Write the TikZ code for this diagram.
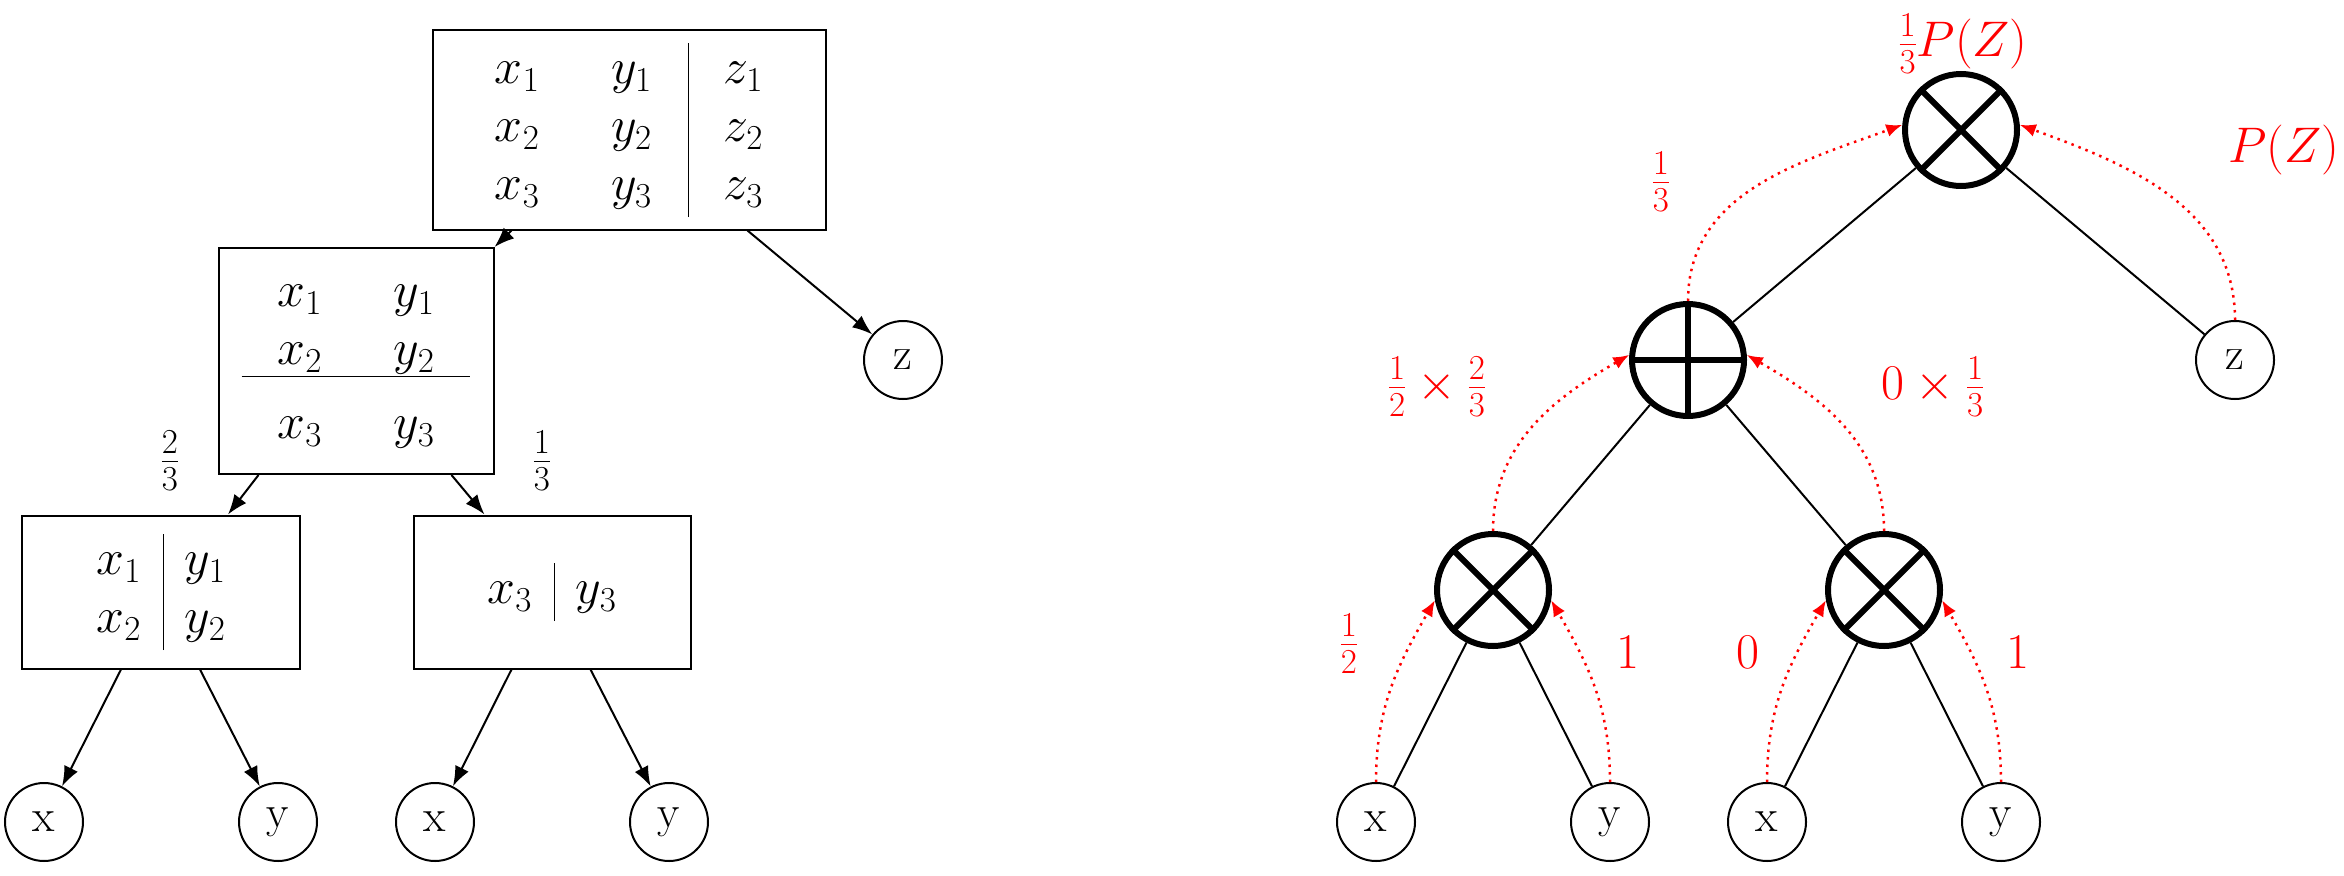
\RequirePackage{fix-cm}
\documentclass[tikz,border=0pt]{standalone}
\usetikzlibrary{arrows.meta}
\begin{document}
\begin{tikzpicture}[x=1pt,y=-1pt,
  every node/.style={font=\fontsize{50}{58}\selectfont},
  box/.style={draw,line width=2pt,rectangle,inner sep=0pt},
  leaf/.style={draw,line width=2pt,circle,minimum size=78pt,inner sep=0pt,font=\fontsize{46}{54}\selectfont},
  op/.style={draw,line width=6pt,circle,minimum size=112pt,inner sep=0pt},
  arr/.style={line width=2pt,-{Latex[length=20pt,width=15pt]}},
  edge/.style={line width=2pt},
  red arr/.style={red,line width=2.5pt,dash pattern=on 2.5pt off 5pt,-{Latex[length=16pt,width=13pt]}},
  lab/.style={red}]
\useasboundingbox (0,0) rectangle (2344,875);
% ---------- left panel ----------
\node[box,minimum width=393pt,minimum height=199pt] (top) at (629,130)
 {$\arraycolsep=36pt\begin{array}{cc|c} x_1 & y_1 & z_1\\ x_2 & y_2 & z_2\\ x_3 & y_3 & z_3\end{array}$};
\node[box,minimum width=275pt,minimum height=226pt] (mid) at (356,361)
 {$\arraycolsep=36pt\begin{array}{cc} x_1 & y_1\\ x_2 & y_2\\[-6pt]\hline\rule{0pt}{62pt} x_3 & y_3\end{array}$};
\node[box,minimum width=278pt,minimum height=153pt] (lb) at (161,592)
 {$\arraycolsep=22pt\begin{array}{c|c} x_1 & y_1\\ x_2 & y_2\end{array}$};
\node[box,minimum width=277pt,minimum height=153pt] (rb) at (552,592)
 {$\arraycolsep=22pt\begin{array}{c|c} x_3 & y_3\end{array}$};
\node[leaf] (z) at (903,360) {z};
\node[leaf] (lx1) at (44,822) {x};
\node[leaf] (ly1) at (278,822) {y};
\node[leaf] (lx2) at (435,822) {x};
\node[leaf] (ly2) at (669,822) {y};
\node at (170,461) {$\frac{2}{3}$};
\node at (542,461) {$\frac{1}{3}$};
\draw[arr] ([xshift=80pt]top.south west) -- (mid.north east);
\draw[arr] ([xshift=316pt]top.south west) -- (z);
\draw[arr] ([xshift=41pt]mid.south west) -- ([xshift=207pt]lb.north west);
\draw[arr] ([xshift=234pt]mid.south west) -- ([xshift=72pt]rb.north west);
\draw[arr] ([xshift=100pt]lb.south west) -- (lx1);
\draw[arr] ([xshift=179pt]lb.south west) -- (ly1);
\draw[arr] ([xshift=99pt]rb.south west) -- (lx2);
\draw[arr] ([xshift=178pt]rb.south west) -- (ly2);
% ---------- right panel ----------
\node[op] (t) at (1961,130) {};
\draw[line width=6pt] (t.45) -- (t.225) (t.135) -- (t.-45);
\node[op] (p) at (1688,360) {};
\draw[line width=6pt] (p.north) -- (p.south) (p.east) -- (p.west);
\node[op] (a) at (1493,590) {};
\draw[line width=6pt] (a.45) -- (a.225) (a.135) -- (a.-45);
\node[op] (b) at (1884,590) {};
\draw[line width=6pt] (b.45) -- (b.225) (b.135) -- (b.-45);
\node[leaf] (rz) at (2235,360) {z};
\node[leaf] (rx1) at (1376,822) {x};
\node[leaf] (ry1) at (1610,822) {y};
\node[leaf] (rx2) at (1767,822) {x};
\node[leaf] (ry2) at (2001,822) {y};
\draw[edge] (t) -- (p);
\draw[edge] (t) -- (rz);
\draw[edge] (p) -- (a);
\draw[edge] (p) -- (b);
\draw[edge] (a) -- (rx1);
\draw[edge] (a) -- (ry1);
\draw[edge] (b) -- (rx2);
\draw[edge] (b) -- (ry2);
\draw[red arr] (rx1.north) to[out=90,in=240] (a.190);
\draw[red arr] (ry1.north) to[out=90,in=-60] (a.-10);
\draw[red arr] (rx2.north) to[out=90,in=240] (b.190);
\draw[red arr] (ry2.north) to[out=90,in=-60] (b.-10);
\draw[red arr] (a.north) to[out=90,in=210] (p.175);
\draw[red arr] (b.north) to[out=90,in=-30] (p.5);
\draw[red arr] (p.north) to[out=90,in=200] (t.175);
\draw[red arr] (rz.north) to[out=90,in=-20] (t.5);
\node[lab] at (1963,44) {$\frac{1}{3}P(Z)$};
\node[lab] at (2284,150) {$P(Z)$};
\node[lab] at (1661,182) {$\frac{1}{3}$};
\node[lab] at (1437,387) {$\frac{1}{2}\times\frac{2}{3}$};
\node[lab] at (1933,387) {$0\times\frac{1}{3}$};
\node[lab] at (1349,644) {$\frac{1}{2}$};
\node[lab] at (1628,652) {$1$};
\node[lab] at (1748,652) {$0$};
\node[lab] at (2018,652) {$1$};
\end{tikzpicture}
\end{document}
